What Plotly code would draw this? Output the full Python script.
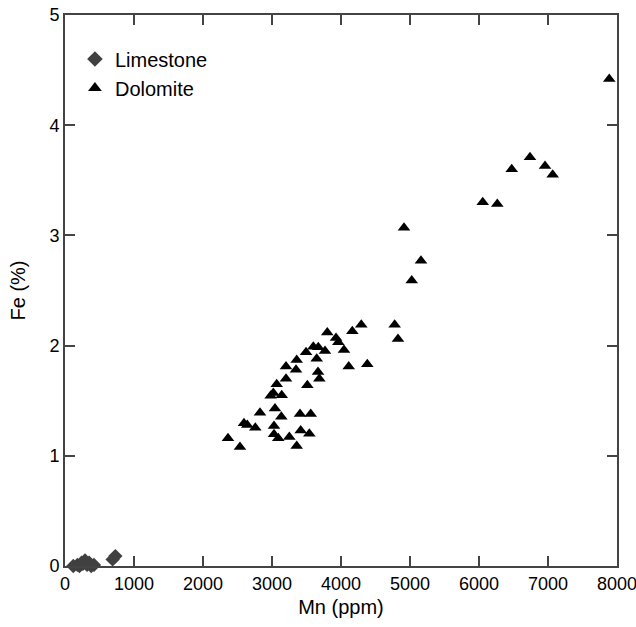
import plotly.graph_objects as go

# Limestone (Mn ppm, Fe %)
lime_mn = [90, 120, 150, 180, 210, 240, 260, 290, 320, 350, 380, 420, 690, 730]
lime_fe = [-0.01, 0.0, -0.01, 0.01, 0.0, 0.03, 0.02, 0.05, 0.01, 0.03, 0.0, 0.01, 0.06, 0.09]

# Dolomite (Mn ppm, Fe %)
dolo_mn = [3801, 3928, 3961, 4164, 4294, 4778, 4826, 3599, 3671, 3768,
           3493, 3648, 4043, 3358, 3203, 3348, 4112, 4381, 3667, 3686,
           3203, 3512, 3068, 3019, 3141, 2981, 3043, 2826, 3135, 3406,
           3561, 2594, 2642, 2758, 3029, 3029, 3091, 3251, 3416, 3541,
           3358, 2362, 2536, 6739, 6474, 6957, 7068, 6054, 6265, 4913,
           5159, 5025, 7888]
dolo_fe = [2.12, 2.07, 2.03, 2.13, 2.19, 2.19, 2.06, 1.99, 1.985, 1.95,
           1.94, 1.88, 1.96, 1.87, 1.81, 1.78, 1.81, 1.83, 1.76, 1.70,
           1.70, 1.64, 1.65, 1.57, 1.55, 1.545, 1.43, 1.39, 1.355, 1.38,
           1.38, 1.295, 1.28, 1.255, 1.27, 1.195, 1.16, 1.17, 1.23, 1.20,
           1.09, 1.16, 1.08, 3.71, 3.60, 3.63, 3.55, 3.30, 3.285, 3.07,
           2.77, 2.59, 4.42]

x_ticks = [0, 1000, 2000, 3000, 4000, 5000, 6000, 7000, 8000]
y_ticks = [0, 1, 2, 3, 4, 5]

FONT = "Arial, Liberation Sans, sans-serif"
AXC = "#444444"

fig = go.Figure()
fig.add_trace(go.Scatter(
    x=lime_mn, y=lime_fe, mode="markers", name="Limestone",
    marker=dict(symbol="diamond", size=11, color="#404040"),
    cliponaxis=False,
))
fig.add_trace(go.Scatter(
    x=dolo_mn, y=dolo_fe, mode="markers", name="Dolomite",
    marker=dict(symbol="triangle-up", size=11, color="black"),
    cliponaxis=False,
))

axis_common = dict(
    showline=True, linecolor=AXC, linewidth=2, mirror="ticks",
    ticks="inside", ticklen=10, tickwidth=2, tickcolor=AXC,
    showgrid=False, zeroline=False, automargin=False,
    ticklabeloverflow="allow",
    tickfont=dict(family=FONT, size=18, color="black"),
    title_font=dict(family=FONT, size=20, color="black"),
)

fig.update_layout(
    width=636, height=627,
    margin=dict(l=65, r=19, t=15, b=61),
    paper_bgcolor="white", plot_bgcolor="white",
    xaxis=dict(range=[0, 8000], tickvals=x_ticks, title_text="Mn (ppm)",
               title_standoff=7, **axis_common),
    yaxis=dict(range=[0, 5], tickvals=y_ticks, title_text="Fe (%)",
               title_standoff=18, **axis_common),
    legend=dict(x=0.018, y=0.9555, xanchor="left", yanchor="top",
                font=dict(family=FONT, size=20, color="black"),
                bgcolor="rgba(0,0,0,0)", itemsizing="constant",
                tracegroupgap=2),
    showlegend=True,
)

fig.write_html("out.html")
